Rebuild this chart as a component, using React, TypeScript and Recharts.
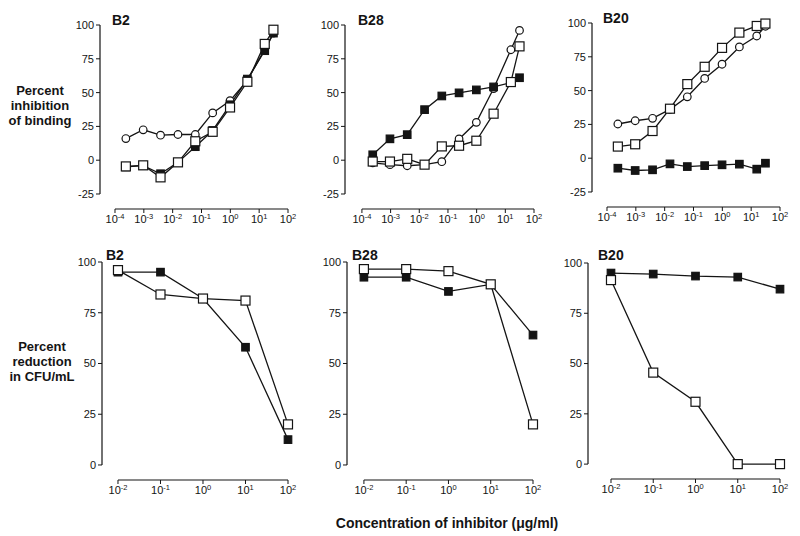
import React from "react";
import { LineChart, Line, XAxis, YAxis, ReferenceLine } from "recharts";

// concentrations (µg/ml), 4-fold dilutions, last step 2-fold
const topConc = [0.000238, 0.00095, 0.0038, 0.0153, 0.061, 0.244, 0.977, 3.9, 15.6, 31.25];
const bottomConc = [0.01, 0.1, 1, 10, 100];

// Percent inhibition of binding
const b2Circle = [16, 22.5, 18.5, 19, 19, 35, 44, 59, 82, 94];
const b2Filled = [-5, -4, -10, -1.6, 10, 22, 41, 60, 81, 94];
const b2Open = [-4.6, -3.8, -12.7, -1.6, 14, 21, 39, 58, 86, 96.5];

const b28Circle = [-2, -3.3, -4.1, -3.3, -1.1, 15.7, 28, 53, 81.7, 96];
const b28Filled = [4, 15.8, 18.9, 37.4, 47.5, 49.8, 52, 54.2, 57.4, 61];
const b28Open = [-1, -1, 1, -3.3, 10.2, 10.7, 14.4, 34.4, 57.8, 84.2];

const b20Circle = [25.3, 27.7, 29.5, 36.1, 45.4, 59, 69.5, 82.3, 90.4, 97.6];
const b20Filled = [-7.4, -9.1, -8.6, -4.2, -6.2, -5.5, -4.9, -4.4, -8.1, -3.7];
const b20Open = [8.6, 10.3, 20.1, 36.6, 54.8, 67.6, 81.6, 92.9, 97.8, 99.6];

// Percent reduction in CFU/mL
const b2FilledCfu = [95, 95, 82, 58, 12.5];
const b2OpenCfu = [96, 84, 82, 81, 20];
const b28FilledCfu = [92.5, 92.5, 85.5, 89, 64];
const b28OpenCfu = [96.5, 96.5, 95.5, 89, 20];
const b20FilledCfu = [95, 94.5, 93.5, 93, 87];
const b20OpenCfu = [91.5, 45.5, 31, 0, 0];

const topXTicks = [1e-4, 1e-3, 1e-2, 1e-1, 1, 10, 100];
const bottomXTicks = [1e-2, 1e-1, 1, 10, 100];
const topYTicks = [-25, 0, 25, 50, 75, 100];
const bottomYTicks = [0, 25, 50, 75, 100];

const FONT = "'Liberation Sans', Arial, Helvetica, sans-serif";
const INK = "#141414";

const LogTick = (props: any) => {
  const { x, y, payload } = props;
  const e = Math.round(Math.log10(payload.value));
  return (
    <text x={x} y={y + 8} textAnchor="middle" fontSize={11} fill={INK} fontFamily={FONT}>
      <tspan>10</tspan>
      <tspan fontSize={7.5} dy={-4.5}>{e}</tspan>
    </text>
  );
};

const squareDot = (filled: boolean, size: number) => (props: any) => {
  const { cx, cy, index } = props;
  if (cx == null || cy == null) return <g key={index} />;
  return (
    <rect
      key={index}
      x={cx - size / 2}
      y={cy - size / 2}
      width={size}
      height={size}
      fill={filled ? INK : "#fff"}
      stroke={INK}
      strokeWidth={1.2}
    />
  );
};

const circleDot = (props: any) => {
  const { cx, cy, index } = props;
  if (cx == null || cy == null) return <g key={index} />;
  return <circle key={index} cx={cx} cy={cy} r={3.8} fill="#fff" stroke={INK} strokeWidth={1.2} />;
};

type Panel = {
  title: string;
  rows: any[];
  keys: string[];
  plotLeft: number;
  plotTop: number;
  plotWidth: number;
  plotHeight: number;
  xLogMin: number;
  xTicks: number[];
  yMin: number;
  yTicks: number[];
};

const mkRows = (xs: number[], s: Record<string, number[]>) =>
  xs.map((x, i) => {
    const r: any = { x };
    Object.keys(s).forEach((k) => (r[k] = s[k][i]));
    return r;
  });

const panels: Panel[] = [
  {
    title: "B2", rows: mkRows(topConc, { circle: b2Circle, filled: b2Filled, open: b2Open }),
    keys: ["circle", "filled", "open"], plotLeft: 100, plotTop: 25, plotWidth: 188, plotHeight: 184,
    xLogMin: -4.52, xTicks: topXTicks, yMin: -36.1, yTicks: topYTicks,
  },
  {
    title: "B28", rows: mkRows(topConc, { circle: b28Circle, filled: b28Filled, open: b28Open }),
    keys: ["circle", "filled", "open"], plotLeft: 345, plotTop: 25, plotWidth: 189, plotHeight: 184,
    xLogMin: -4.59, xTicks: topXTicks, yMin: -36.1, yTicks: topYTicks,
  },
  {
    title: "B20", rows: mkRows(topConc, { circle: b20Circle, filled: b20Filled, open: b20Open }),
    keys: ["circle", "filled", "open"], plotLeft: 592, plotTop: 23, plotWidth: 188, plotHeight: 184,
    xLogMin: -4.52, xTicks: topXTicks, yMin: -36.1, yTicks: topYTicks,
  },
  {
    title: "B2", rows: mkRows(bottomConc, { filled: b2FilledCfu, open: b2OpenCfu }),
    keys: ["filled", "open"], plotLeft: 102, plotTop: 262, plotWidth: 186, plotHeight: 218,
    xLogMin: -2.376, xTicks: bottomXTicks, yMin: -7.4, yTicks: bottomYTicks,
  },
  {
    title: "B28", rows: mkRows(bottomConc, { filled: b28FilledCfu, open: b28OpenCfu }),
    keys: ["filled", "open"], plotLeft: 347, plotTop: 262, plotWidth: 186, plotHeight: 218,
    xLogMin: -2.4, xTicks: bottomXTicks, yMin: -7.4, yTicks: bottomYTicks,
  },
  {
    title: "B20", rows: mkRows(bottomConc, { filled: b20FilledCfu, open: b20OpenCfu }),
    keys: ["filled", "open"], plotLeft: 588, plotTop: 263, plotWidth: 192, plotHeight: 216,
    xLogMin: -2.544, xTicks: bottomXTicks, yMin: -7.4, yTicks: bottomYTicks,
  },
];

const YW = 45;

function PanelChart({ p }: { p: Panel }) {
  const xMin = Math.pow(10, p.xLogMin);
  const firstTick = p.xTicks[0];
  const lastTick = p.xTicks[p.xTicks.length - 1];
  const yLow = p.yTicks[0];
  return (
    <div style={{ position: "absolute", left: p.plotLeft - YW, top: p.plotTop - 10 }}>
      <LineChart
        width={YW + p.plotWidth + 10}
        height={10 + p.plotHeight + 30}
        data={p.rows}
        margin={{ top: 10, right: 10, bottom: 0, left: 0 }}
      >
        <XAxis
          dataKey="x"
          type="number"
          scale="log"
          domain={[xMin, 100]}
          ticks={p.xTicks}
          interval={0}
          axisLine={false}
          tickSize={4}
          tickLine={{ stroke: INK }}
          tick={<LogTick />}
          height={30}
        />
        <YAxis
          type="number"
          domain={[p.yMin, 100]}
          ticks={p.yTicks}
          interval={0}
          axisLine={false}
          tickSize={4}
          tickLine={{ stroke: INK }}
          tick={{ fontSize: 11, fill: INK, fontFamily: FONT }}
          width={YW}
        />
        <ReferenceLine
          segment={[{ x: xMin, y: yLow }, { x: xMin, y: 100 }]}
          stroke={INK}
          strokeWidth={1.2}
          ifOverflow="visible"
        />
        <ReferenceLine
          segment={[{ x: firstTick, y: p.yMin }, { x: lastTick, y: p.yMin }]}
          stroke={INK}
          strokeWidth={1.2}
          ifOverflow="visible"
        />
        {p.keys.map((k) => (
          <Line
            key={k}
            dataKey={k}
            type="linear"
            stroke={INK}
            strokeWidth={1.3}
            dot={k === "circle" ? circleDot : squareDot(k === "filled", k === "filled" ? 7.5 : 9)}
            activeDot={false}
            isAnimationActive={false}
          />
        ))}
      </LineChart>
    </div>
  );
}

export default function App() {
  const titlePos = [
    { x: 112, y: 25 }, { x: 358, y: 25 }, { x: 603, y: 23 },
    { x: 106, y: 260 }, { x: 352, y: 260 }, { x: 598, y: 260 },
  ];
  return (
    <div
      style={{
        position: "absolute", left: 0, top: 0, width: 800, height: 536,
        background: "#fff", fontFamily: FONT, overflow: "hidden",
      }}
    >
      {panels.map((p, i) => (
        <PanelChart key={i} p={p} />
      ))}
      <svg width={800} height={536} style={{ position: "absolute", left: 0, top: 0, pointerEvents: "none" }}>
        <g fontFamily={FONT} fontWeight="bold" fill={INK}>
          {panels.map((p, i) => (
            <text key={i} x={titlePos[i].x} y={titlePos[i].y} fontSize={14}>{p.title}</text>
          ))}
          <text textAnchor="middle" fontSize={13}>
            <tspan x={40} y={95}>Percent</tspan>
            <tspan x={40} y={110}>inhibition</tspan>
            <tspan x={40} y={125}>of binding</tspan>
          </text>
          <text textAnchor="middle" fontSize={13}>
            <tspan x={42} y={351}>Percent</tspan>
            <tspan x={42} y={366}>reduction</tspan>
            <tspan x={42} y={381}>in CFU/mL</tspan>
          </text>
          <text x={447} y={528} textAnchor="middle" fontSize={14}>Concentration of inhibitor (μg/ml)</text>
        </g>
      </svg>
    </div>
  );
}
